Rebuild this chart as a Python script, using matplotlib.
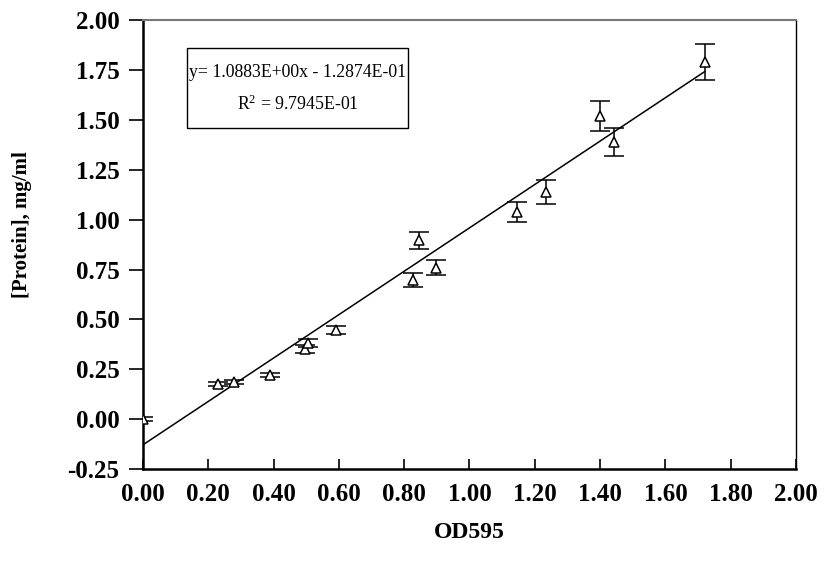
import matplotlib
matplotlib.use('Agg')
import matplotlib.pyplot as plt
from matplotlib.patches import Rectangle

plt.rcParams['font.family'] = ['Liberation Serif', 'DejaVu Serif']
plt.rcParams['mathtext.fontset'] = 'custom'
plt.rcParams['mathtext.rm'] = 'Liberation Serif'

# values
od595 = [0.00, 0.23, 0.28, 0.39, 0.495, 0.505, 0.59, 0.828, 0.846, 0.898,
         1.145, 1.234, 1.40, 1.443, 1.72]
protein = [0.00, 0.175, 0.185, 0.22, 0.35, 0.38, 0.446, 0.70, 0.897, 0.76,
           1.04, 1.14, 1.52, 1.39, 1.79]
err = [0.01, 0.01, 0.01, 0.01, 0.02, 0.02, 0.02, 0.035, 0.043, 0.037,
       0.05, 0.06, 0.075, 0.07, 0.09]

slope = 1.0883
intercept = -0.12874
r2 = 0.97945

xticks = [0.0, 0.2, 0.4, 0.6, 0.8, 1.0, 1.2, 1.4, 1.6, 1.8, 2.0]
yticks = [-0.25, 0.0, 0.25, 0.5, 0.75, 1.0, 1.25, 1.5, 1.75, 2.0]

fig = plt.figure(figsize=(8.24, 5.61), dpi=100)
ax = fig.add_axes([0.1735, 0.164, 0.7925, 0.7995])

# trendline over the data range
xl = [min(od595), max(od595)]
yl = [slope * v + intercept for v in xl]
ax.plot(xl, yl, color='black', lw=1.1, zorder=2)

ax.errorbar(od595, protein, yerr=err, fmt='^', ms=7, mfc='white', mec='black',
            mew=1.1, ecolor='black', elinewidth=1.1, capsize=7, capthick=1.1,
            zorder=3)

ax.set_xlim(0, 2.0)
ax.set_ylim(-0.25, 2.0)
ax.set_xticks(xticks)
ax.set_yticks(yticks)
ax.set_xticklabels(['%.2f' % v for v in xticks])
ax.set_yticklabels(['%.2f' % v for v in yticks])
ax.tick_params(axis='x', direction='in', length=7, width=1.2, pad=10,
               labelsize=18)
ax.tick_params(axis='y', direction='out', length=10, width=1.2, pad=7,
               labelsize=18)
for lab in ax.get_xticklabels() + ax.get_yticklabels():
    lab.set_fontweight('bold')

ax.spines['left'].set_linewidth(1.8)
ax.spines['bottom'].set_linewidth(1.8)
ax.spines['right'].set_linewidth(1.0)
ax.spines['top'].set_linewidth(1.5)
ax.spines['top'].set_color('#777777')

ax.set_xlabel('OD595', fontsize=17, fontweight='bold')
ax.xaxis.set_label_coords(0.5, -0.118)
ax.set_ylabel('[Protein], mg/ml', fontsize=15, fontweight='bold')
ax.yaxis.set_label_coords(-0.186, 0.546)
ax.yaxis.label.set_va('center')

# equation box
ax.add_patch(Rectangle((0.0674, 0.760), 0.3384, 0.178, transform=ax.transAxes,
                       fill=False, edgecolor='black', lw=1.0, zorder=4))
ax.text(0.2366, 0.885, 'y= %.4fE+00x - %.4fE-01' % (slope, -intercept * 10),
        transform=ax.transAxes, ha='center', va='center', fontsize=12.8)
ax.text(0.2366, 0.812, r'$\mathregular{R^2}$ = %.4fE-01' % (r2 * 10),
        transform=ax.transAxes, ha='center', va='center', fontsize=12.8)

fig.savefig('out.png', dpi=100)
